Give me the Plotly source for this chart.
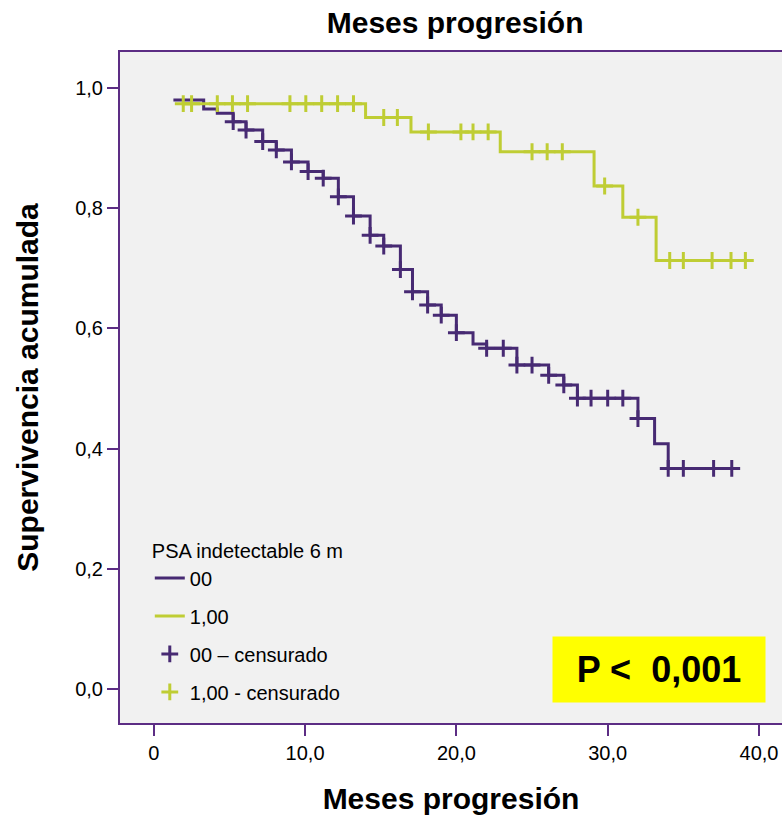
import numpy as np
import plotly.graph_objects as go

# Group "00" (PSA detectable at 6 m): start point, event times and survival after each event
t0_start, s0_start, t0_end = 1.3, 0.980, 38.2
t0_events = [3.3, 4.2, 5.25, 6.1, 7.2, 8.1, 9.1, 10.2, 11.2, 12.2, 13.2, 14.3, 15.2, 16.3,
             17.1, 18.1, 19.0, 20.0, 21.1, 22.0, 24.0, 26.1, 27.1, 28.0, 32.0, 33.1, 34.0]
s0_events = [0.965, 0.958, 0.944, 0.930, 0.911, 0.897, 0.877, 0.861, 0.850, 0.819, 0.787, 0.755,
             0.737, 0.698, 0.661, 0.639, 0.622, 0.593, 0.574, 0.567, 0.539, 0.522, 0.506, 0.484,
             0.450, 0.408, 0.367]
t0_censored = [5.25, 6.1, 7.2, 8.1, 9.1, 10.2, 11.2, 12.2, 13.2, 14.3, 15.2, 16.3, 17.1, 18.1,
               19.0, 20.0, 22.0, 23.1, 24.0, 25.0, 26.1, 27.1, 28.0, 28.9, 30.0, 31.0, 32.0,
               34.0, 35.0, 37.0, 38.2]

# Group "1,00" (PSA undetectable at 6 m)
t1_start, s1_start, t1_end = 1.85, 0.974, 39.1
t1_events = [14.0, 17.0, 22.9, 29.1, 31.0, 33.2]
s1_events = [0.951, 0.927, 0.894, 0.837, 0.785, 0.713]
t1_censored = [1.95, 2.5, 4.2, 5.2, 6.2, 9.0, 10.05, 11.1, 12.15, 13.2, 15.2, 16.1, 18.15, 20.3,
               21.1, 22.1, 25.0, 26.0, 27.0, 29.8, 32.0, 34.1, 35.0, 36.9, 38.15, 39.1]

x_tickvals = [0, 10, 20, 30, 40]
x_ticktext = ['0', '10,0', '20,0', '30,0', '40,0']
y_tickvals = [0.0, 0.2, 0.4, 0.6, 0.8, 1.0]
y_ticktext = ['0,0', '0,2', '0,4', '0,6', '0,8', '1,0']

PURPLE = '#472a73'
GREEN = '#bfcd34'
FRAME = '#5c2d84'


def step_curve(t_start, s_start, t_events, s_events, t_end):
    '''Builds x/y lists of the survival curve.'''
    xs = [t_start] + list(t_events) + [t_end]
    ys = [s_start] + list(s_events) + [s_events[-1]]
    return xs, ys


def censor_levels(t_start, s_start, t_events, s_events, t_cens):
    '''Survival level at each censored time (after any event at that time).'''
    times = np.array(t_events)
    levels = np.array([s_start] + list(s_events))
    idx = np.searchsorted(times, np.array(t_cens) + 1e-9, side='right')
    return levels[idx]


x0, y0 = step_curve(t0_start, s0_start, t0_events, s0_events, t0_end)
x1, y1 = step_curve(t1_start, s1_start, t1_events, s1_events, t1_end)
c0 = censor_levels(t0_start, s0_start, t0_events, s0_events, t0_censored)
c1 = censor_levels(t1_start, s1_start, t1_events, s1_events, t1_censored)

fig = go.Figure()

fig.add_trace(go.Scatter(x=x0, y=y0, mode='lines', name='00',
                         line=dict(color=PURPLE, width=3, shape='hv'), legendgroup='a'))
fig.add_trace(go.Scatter(x=x1, y=y1, mode='lines', name='1,00',
                         line=dict(color=GREEN, width=3, shape='hv'), legendgroup='b'))
fig.add_trace(go.Scatter(x=t0_censored, y=c0, mode='markers', name='00 – censurado',
                         marker=dict(symbol='cross-thin', size=12,
                                     line=dict(color=PURPLE, width=3)), legendgroup='c'))
fig.add_trace(go.Scatter(x=t1_censored, y=c1, mode='markers', name='1,00 - censurado',
                         marker=dict(symbol='cross-thin', size=12,
                                     line=dict(color=GREEN, width=3)), legendgroup='d'))

axis_font = dict(family='Liberation Sans, Arial', size=20, color='black')
title_font = dict(family='Liberation Sans, Arial', size=30, color='black')

fig.update_layout(
    width=782, height=815,
    margin=dict(l=120, r=0, t=52, b=92),
    paper_bgcolor='white',
    plot_bgcolor='#f1f1f1',
    title=dict(text='<b>Meses progresión</b>', x=0.582, xanchor='center', y=0.973, yanchor='middle',
               font=title_font),
    legend=dict(title=dict(text='PSA indetectable 6 m', font=dict(size=20)),
                x=0.045, y=0.284, xanchor='left', yanchor='top',
                bgcolor='rgba(0,0,0,0)', tracegroupgap=9,
                font=dict(family='Liberation Sans, Arial', size=20, color='black')),
    annotations=[dict(text='<b>P <  0,001</b>', xref='paper', yref='paper', x=0.814, y=0.08,
                      xanchor='center', yanchor='middle', showarrow=False,
                      bgcolor='#ffff00', width=210, height=63,
                      font=dict(family='Liberation Sans, Arial', size=36, color='black'))],
)

fig.update_xaxes(range=[-2.23, 41.52], tickvals=x_tickvals, ticktext=x_ticktext,
                 showgrid=False, zeroline=False, showline=True, linecolor=FRAME, linewidth=2,
                 mirror=True, ticks='outside', ticklen=11, tickwidth=2, tickcolor=FRAME,
                 tickfont=axis_font, automargin=False,
                 title=dict(text='<b>Meses progresión</b>', font=title_font, standoff=28))
fig.update_yaxes(range=[-0.0566, 1.060], tickvals=y_tickvals, ticktext=y_ticktext,
                 showgrid=False, zeroline=False, showline=True, linecolor=FRAME, linewidth=2,
                 mirror=False, ticks='outside', ticklen=11, tickwidth=2, tickcolor=FRAME,
                 tickfont=axis_font, automargin=False,
                 title=dict(text='<b>Supervivencia acumulada</b>', font=title_font, standoff=28))

fig.write_html('out.html', config={'displayModeBar': False},
               post_script="document.body.style.margin='0px';")
